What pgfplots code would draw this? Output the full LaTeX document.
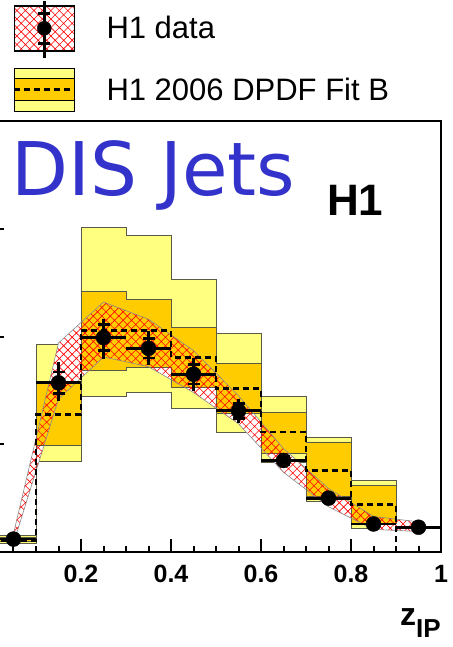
\documentclass[border=0pt]{standalone}
\usepackage{pgfplots}
\pgfplotsset{compat=1.18}
\usepackage{pgfplotstable}
\usetikzlibrary{patterns.meta}
\usepackage{fontspec}
\setmainfont{Liberation Sans}
\newfontfamily\djv{DejaVu Sans}
\definecolor{lightyel}{RGB}{255,255,128}
\definecolor{orng}{RGB}{255,204,0}
\definecolor{boxline}{RGB}{90,90,70}
\definecolor{disblue}{RGB}{51,51,204}

\pgfplotstableread{
x     y     ex    eyp   eym   es
0.05  0.12  0.05  0.04  0.04  0.02
0.15  1.57  0.05  0.19  0.17  0.10
0.25  1.99  0.05  0.17  0.20  0.12
0.35  1.89  0.05  0.16  0.15  0.09
0.45  1.65  0.05  0.15  0.16  0.09
0.55  1.31  0.05  0.11  0.11  0.07
0.65  0.85  0.05  0.07  0.07  0.04
0.75  0.50  0.05  0.05  0.05  0.03
0.85  0.26  0.05  0.04  0.04  0.02
0.95  0.23  0.05  0.04  0.04  0.02
}\datatab

\pgfplotstableread{
x    c
0.0  0.11
0.1  1.275
0.2  2.056
0.3  2.056
0.4  1.808
0.5  1.516
0.6  1.114
0.7  0.759
0.8  0.442
0.9  0.0
1.0  0.0
}\fittab

\begin{document}
\begin{tikzpicture}
\begin{axis}[
  at={(-9pt,-552pt)}, anchor=south west,
  scale only axis, width=450pt, height=431pt,
  xmin=0, xmax=1, ymin=0, ymax=4,
  axis line style={line width=2.5pt},
  tick pos=left,
  xtick={0,0.2,0.4,0.6,0.8,1}, minor x tick num=3,
  xticklabels={,0.2,0.4,0.6,0.8,1},
  ytick={0,1,2,3,4}, yticklabel=\empty,
  major tick length=13pt, minor tick length=6.5pt,
  tick style={black, line width=2pt},
  xticklabel style={font=\fontsize{25}{25}\selectfont\bfseries, inner sep=0pt, yshift=-13pt},
  xlabel={\fontsize{32}{32}\selectfont\bfseries z\raisebox{-12pt}{\fontsize{26}{26}\selectfont IP}},
  xlabel style={at={(axis description cs:1,0)}, anchor=base east, yshift=-73pt, inner sep=0pt},
  legend style={at={(axis description cs:0.0489,1.2807)}, anchor=north west, draw=none, fill=none,
    inner sep=0pt, outer sep=0pt, column sep=31pt, row sep=8pt,
    font=\fontsize{31}{31}\selectfont, nodes={inner sep=0pt}},
  legend cell align=left,
]
% light yellow outer band of Fit B
\addplot[forget plot, fill=lightyel, draw=boxline, line width=0.8pt, mark=none] coordinates {
 (0,0.157) (0.1,0.157) (0.1,1.93) (0.2,1.93) (0.2,3.01) (0.3,3.01) (0.3,2.935) (0.4,2.935)
 (0.4,2.53) (0.5,2.53) (0.5,2.03) (0.6,2.03) (0.6,1.444) (0.7,1.444) (0.7,1.068) (0.8,1.068)
 (0.8,0.667) (0.9,0.667)
 (0.9,0.219) (0.8,0.219) (0.8,0.466) (0.7,0.466) (0.7,0.836) (0.6,0.836) (0.6,1.114) (0.5,1.114)
 (0.5,1.333) (0.4,1.333) (0.4,1.484) (0.3,1.484) (0.3,1.444) (0.2,1.444) (0.2,0.845) (0.1,0.845)
 (0.1,0.083) (0,0.083)
} -- cycle;
% data band: white underlay
\addplot[forget plot, fill=white, draw=none, mark=none] coordinates {
 (0.05,0.17) (0.15,1.94) (0.25,2.32) (0.35,2.16) (0.45,1.87) (0.55,1.45) (0.65,0.96) (0.75,0.59) (0.85,0.33) (0.95,0.28)
 (0.95,0.19) (0.85,0.21) (0.75,0.42) (0.65,0.74) (0.55,1.19) (0.45,1.48) (0.35,1.72) (0.25,1.81) (0.15,1.42) (0.05,0.08)
} -- cycle;
% orange inner band of Fit B
\addplot[forget plot, fill=orng, draw=boxline, line width=0.8pt, mark=none] coordinates {
 (0,0.14) (0.1,0.14) (0.1,1.565) (0.2,1.565) (0.2,2.417) (0.3,2.417) (0.3,2.343) (0.4,2.343)
 (0.4,2.081) (0.5,2.081) (0.5,1.747) (0.6,1.747) (0.6,1.299) (0.7,1.299) (0.7,1.021) (0.8,1.021)
 (0.8,0.620) (0.9,0.620)
 (0.9,0.266) (0.8,0.266) (0.8,0.512) (0.7,0.512) (0.7,0.917) (0.6,0.917) (0.6,1.287) (0.5,1.287)
 (0.5,1.531) (0.4,1.531) (0.4,1.716) (0.3,1.716) (0.3,1.685) (0.2,1.685) (0.2,0.991) (0.1,0.991)
 (0.1,0.10) (0,0.10)
} -- cycle;
% data band: red hatch
\addplot[forget plot, draw=black!45, line width=0.6pt, mark=none,
  pattern={Hatch[angle=45,distance=6pt,line width=0.6pt]}, pattern color=red] coordinates {
 (0.05,0.17) (0.15,1.94) (0.25,2.32) (0.35,2.16) (0.45,1.87) (0.55,1.45) (0.65,0.96) (0.75,0.59) (0.85,0.33) (0.95,0.28)
 (0.95,0.19) (0.85,0.21) (0.75,0.42) (0.65,0.74) (0.55,1.19) (0.45,1.48) (0.35,1.72) (0.25,1.81) (0.15,1.42) (0.05,0.08)
} -- cycle;
% Fit B central value
\addplot[forget plot, const plot mark left, black, line width=2.8pt, dash pattern=on 6pt off 4pt, mark=none]
  table[x=x, y=c]{\fittab};
% data points, total errors
\addplot[forget plot, only marks, mark=*, mark size=7.5pt, black, mark options={fill=black},
  error bars/.cd, x dir=both, x explicit, y dir=both, y explicit, error mark=none,
  error bar style={line width=2.8pt, black}]
  table[x=x, y=y, x error=ex, y error plus=eyp, y error minus=eym]{\datatab};
% statistical error caps
\addplot[forget plot, only marks, mark=none,
  error bars/.cd, y dir=both, y explicit, error mark=-,
  error mark options={rotate=90, black, line width=2.5pt, mark size=6pt},
  error bar style={line width=2.8pt, black}]
  table[x=x, y=y, y error=es]{\datatab};

\addlegendimage{legend image code/.code={
  \fill[white] (0pt,-22.5pt) rectangle (60pt,22.5pt);
  \fill[pattern={Hatch[angle=45,distance=6pt,line width=0.6pt]}, pattern color=red] (0pt,-22.5pt) rectangle (60pt,22.5pt);
  \draw[black, line width=1.2pt] (0pt,-22.5pt) rectangle (60pt,22.5pt);
  \draw[black, line width=2.5pt] (30pt,-30pt) -- (30pt,27pt);
  \draw[black, line width=2.5pt] (24pt,15pt) -- (36pt,15pt) (24pt,-15pt) -- (36pt,-15pt);
  \fill[black] (30pt,0pt) circle (7pt);
}}
\addlegendentry{H1 data}
\addlegendimage{legend image code/.code={
  \fill[lightyel] (0pt,-21.5pt) rectangle (60pt,21.5pt);
  \fill[orng] (0pt,-10.5pt) rectangle (60pt,11.5pt);
  \draw[black, line width=0.8pt] (0pt,-10.5pt) -- (60pt,-10.5pt) (0pt,11.5pt) -- (60pt,11.5pt);
  \draw[black, line width=1.2pt] (0pt,-21.5pt) rectangle (60pt,21.5pt);
  \draw[black, line width=2.5pt, dash pattern=on 6pt off 4pt] (0pt,0pt) -- (60pt,0pt);
}}
\addlegendentry{H1 2006 DPDF Fit B}
\end{axis}
\node[anchor=base west, inner sep=0pt, text=disblue, font=\djv\fontsize{74}{74}\selectfont] at (11pt,-195pt) {DIS Jets};
\node[anchor=base west, inner sep=0pt, font=\fontsize{44}{44}\selectfont\bfseries] at (327pt,-215pt) {H1};
\pgfresetboundingbox
\path[use as bounding box] (0pt,0pt) rectangle (452pt,-647pt);
\end{tikzpicture}
\end{document}
